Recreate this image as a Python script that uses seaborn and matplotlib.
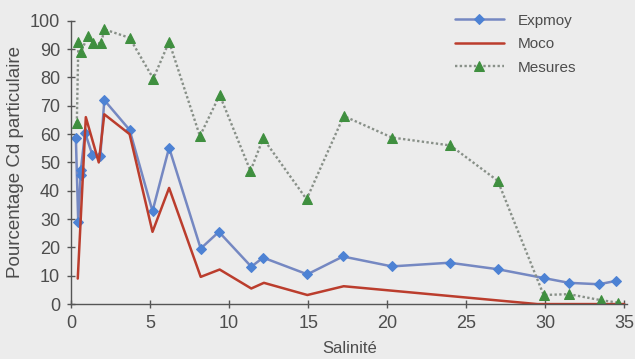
import matplotlib
matplotlib.use("Agg")
import matplotlib.pyplot as plt
import seaborn as sns

# Données
sal_expmoy = [0.3, 0.45, 0.6, 0.62, 0.88, 1.35, 1.85, 2.1, 3.7, 5.15, 6.2, 8.2, 9.35,
              11.4, 12.15, 14.95, 17.2, 20.3, 23.95, 27.0, 29.9, 31.5, 33.4, 34.5]
cd_expmoy = [58.7, 29, 45.5, 47.5, 60.5, 52.6, 52.4, 72, 61.5, 32.8, 55.2, 19.6, 25.5,
             13.2, 16.4, 10.5, 16.8, 13.3, 14.6, 12.3, 9.2, 7.5, 7.0, 8.2]

sal_moco = [0.42, 0.93, 1.75, 2.1, 3.7, 5.15, 6.2, 8.2, 9.4, 11.4, 12.2, 14.95, 17.25, 29.5, 35.0]
cd_moco = [9, 66, 50, 67, 60, 25.5, 41, 9.6, 12.2, 5.5, 7.5, 3.2, 6.3, 0, 0]

sal_mesures = [0.36, 0.46, 0.63, 1.05, 1.4, 1.9, 2.1, 3.7, 5.2, 6.2, 8.15, 9.4, 11.35,
               12.15, 14.9, 17.25, 20.3, 24.0, 27.0, 29.9, 31.5, 33.5, 34.6]
cd_mesures = [63.8, 92.6, 89, 94.6, 92.2, 92, 97, 94, 79.6, 92.6, 59.3, 73.8, 47,
              58.5, 37, 66.4, 58.8, 56, 43.5, 3.2, 3.5, 1.4, 0.5]

sns.set_theme(style="ticks")
plt.rcParams['font.family'] = ['Liberation Sans', 'DejaVu Sans']

bg = '#ececec'
txt = '#4d4d4d'
fig = plt.figure(figsize=(6.35, 3.59), dpi=100, facecolor=bg)
ax = fig.add_axes([0.112, 0.153, 0.876, 0.789], facecolor=bg)

sns.lineplot(x=sal_expmoy, y=cd_expmoy, ax=ax, estimator=None, sort=False,
             color='#7588c2', lw=1.8, marker='D', markersize=5.5,
             markerfacecolor='#4d82d4', markeredgecolor='#4d82d4', label='Expmoy')
sns.lineplot(x=sal_moco, y=cd_moco, ax=ax, estimator=None, sort=False,
             color='#bb3d2d', lw=1.8, label='Moco')
sns.lineplot(x=sal_mesures, y=cd_mesures, ax=ax, estimator=None, sort=False,
             color='#889088', lw=1.7, linestyle=(0, (1, 1)), marker='^', markersize=7.5,
             markerfacecolor='#3f8f3f', markeredgecolor='#3f8f3f', label='Mesures')

ax.set_xlim(0, 35.2)
ax.set_ylim(0, 100)
ax.set_xticks(range(0, 36, 5))
ax.set_yticks(range(0, 101, 10))
ax.tick_params(axis='both', direction='inout', length=6, width=1, color='#555555',
               labelsize=13, labelcolor=txt, pad=5)
for s in ['top', 'right']:
    ax.spines[s].set_visible(False)
for s in ['left', 'bottom']:
    ax.spines[s].set_color('#555555')
    ax.spines[s].set_linewidth(1)

ax.set_xlabel('Salinité', fontsize=12, color=txt, labelpad=6)
ax.set_ylabel('Pourcentage Cd particulaire', fontsize=13.5, color=txt, labelpad=4)

leg = ax.legend(loc='upper left', bbox_to_anchor=(0.716, 0.962), bbox_transform=fig.transFigure,
                frameon=False, borderpad=0, borderaxespad=0,
                fontsize=11, handlelength=3.2, labelspacing=0.62, handletextpad=0.95)
for t in leg.get_texts():
    t.set_color(txt)

fig.savefig('out.png', dpi=100, facecolor=bg)
